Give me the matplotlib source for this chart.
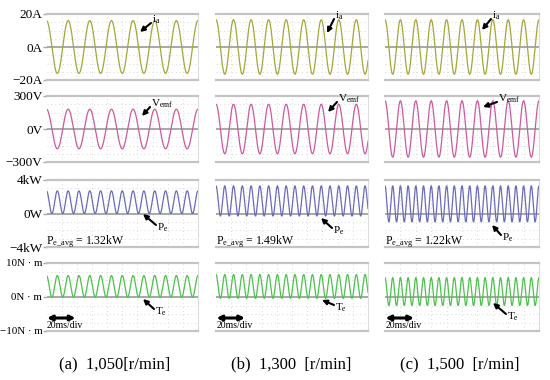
import numpy as np
import matplotlib
matplotlib.use('Agg')
import matplotlib.pyplot as plt

plt.rcParams['font.family'] = ['Liberation Serif', 'DejaVu Serif']
plt.rcParams['mathtext.fontset'] = 'custom'
plt.rcParams['mathtext.rm'] = 'Liberation Serif'
plt.rcParams['mathtext.it'] = 'Liberation Serif:italic'

# (one entry per column)
captions = ['(a)  1,050[r/min]', '(b)  1,300  [r/min]', '(c)  1,500  [r/min]']
speed_rpm = [1050, 1300, 1500]
ia_amp = [16.0, 16.5, 16.5]          # A
vemf_amp = [180, 225, 256]           # V
pe_max = [2.7, 3.3, 3.3]             # kW
pe_min = [0.0, -0.3, -1.0]           # kW
te_max = [6.3, 6.6, 5.7]             # N·m
te_min = [0.0, -0.4, -2.5]           # N·m
pe_avg_text = ['1.32kW', '1.49kW', '1.22kW']
pole_pairs = 2
window_ms = 200  # 10 div x 20 ms

row_limits = [20, 300, 4, 10]
row_ticklabels = [['\u221220A', '0A', '20A'],
                  ['\u2212300V', '0V', '300V'],
                  ['\u22124kW', '0W', '4kW'],
                  ['\u221210N \u00b7 m', '0N \u00b7 m', '10N \u00b7 m']]
row_tick_size = [9.5, 9.5, 9.5, 7.9]
row_colors = ['#a5a838', '#cc5aa0', '#6b6bbb', '#4cc24c']
row_labels = [r'$\mathrm{i_a}$', r'$\mathrm{V_{emf}}$', r'$\mathrm{P_e}$', r'$\mathrm{T_e}$']

# layout in pixels (550 x 380 canvas)
W, H = 550, 380
col_x = [(46.5, 198), (216, 368), (385, 539)]
row_y = [(14, 80), (96, 162), (180, 247), (263, 331)]
caption_x = [115, 291, 460]

# label text position and arrow head position, per column and row
label_pos = [
    [((152, 20), (140, 32)), ((151, 104), (142, 116)), ((157, 228), (143, 214)), ((155, 312), (143, 299))],
    [((335, 16), (327, 33)), ((338, 99), (328, 112)), ((333, 231), (321, 218)), ((335, 308), (322, 300))],
    [((492, 16), (482, 30)), ((498, 99), (483, 107)), ((502, 238), (492, 225)), ((507, 317), (493, 303))],
]


def fx(x):
    return x / W


def fy(y):
    return 1 - y / H


fig = plt.figure(figsize=(5.5, 3.8), dpi=100)

t = np.linspace(0, window_ms / 1000, 3000)

for c in range(3):
    fe = speed_rpm[c] / 60 * pole_pairs
    w = 2 * np.pi * fe
    waves = [
        ia_amp[c] * np.cos(w * t),
        vemf_amp[c] * np.cos(w * t),
        (pe_max[c] + pe_min[c]) / 2 + (pe_max[c] - pe_min[c]) / 2 * np.cos(2 * w * t),
        (te_max[c] + te_min[c]) / 2 + (te_max[c] - te_min[c]) / 2 * np.cos(2 * w * t),
    ]
    x0, x1 = col_x[c]
    for r in range(4):
        y0, y1 = row_y[r]
        ax = fig.add_axes([fx(x0), fy(y1), (x1 - x0) / W, (y1 - y0) / H])
        lim = row_limits[r]
        ax.set_xlim(0, window_ms / 1000)
        ax.set_ylim(-lim, lim)
        # scope grid
        for k in range(1, 10):
            ax.axvline(k * window_ms / 10000, color='#dadada', lw=0.7, ls=(0, (1, 3)), zorder=0)
        for k in (-3, -2, -1, 1, 2, 3):
            ax.axhline(k * lim / 4, color='#dadada', lw=0.7, ls=(0, (1, 3)), zorder=0)
        ax.axhline(0, color='#a8a8a8', lw=1.4, zorder=1)
        ax.plot(t, waves[r], color=row_colors[r], lw=0.9, zorder=2)
        for s in ('top', 'bottom'):
            ax.spines[s].set_color('#c4c4c4')
            ax.spines[s].set_linewidth(1.6)
        ax.spines['right'].set_color('#dddddd')
        ax.spines['right'].set_linewidth(0.8)
        ax.spines['left'].set_visible(False)
        ax.set_xticks([])
        if c == 0:
            ax.set_yticks([-lim, 0, lim])
            ax.set_yticklabels(row_ticklabels[r], fontsize=row_tick_size[r])
            ax.tick_params(axis='y', length=3, width=1, color='#a8a8a8', pad=0)
        else:
            ax.set_yticks([])

        (tx, ty), (hx, hy) = label_pos[c][r]
        fig.text(fx(tx), fy(ty), row_labels[r], fontsize=8, ha='left', va='center')
        ax.annotate('', xy=(fx(hx), fy(hy)), xycoords='figure fraction',
                    xytext=(fx(tx - 1), fy(ty + (3 if hy > ty else -3))), textcoords='figure fraction',
                    arrowprops=dict(arrowstyle='-|>', color='k', lw=1.5, mutation_scale=7,
                                    shrinkA=0, shrinkB=0))

    # average power note
    fig.text(fx(x0), fy(242), r'$\mathrm{P_{e\_avg}}$ = ' + pe_avg_text[c], fontsize=8.5,
             ha='left', va='center')
    # time scale marker
    fig.patches.append(matplotlib.patches.FancyArrowPatch(
        (fx(x0 + 0.5), fy(318)), (fx(x0 + 29), fy(318)), transform=fig.transFigure,
        arrowstyle='<|-|>', color='k', lw=2.2, mutation_scale=7, shrinkA=0, shrinkB=0))
    fig.text(fx(x0 + 0.5), fy(326), '20ms/div', fontsize=7, ha='left', va='center')

    fig.text(fx(caption_x[c]), fy(364), captions[c], fontsize=12, ha='center', va='center')

fig.savefig('out.png', dpi=100)
